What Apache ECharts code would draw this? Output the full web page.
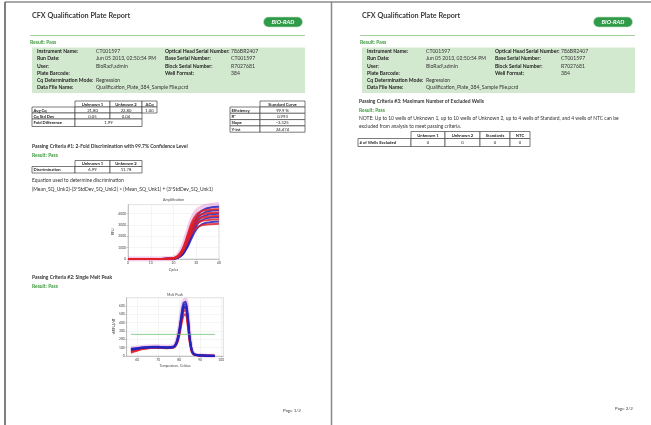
<!DOCTYPE html>
<html>
<head>
<meta charset="utf-8">
<script src="https://cdn.jsdelivr.net/npm/echarts@6/dist/echarts.min.js"></script>
<style>
html, body { margin: 0; padding: 0; background: #fff; }
#main { width: 651px; height: 425px; }
</style>
</head>
<body>
<div id="main"></div>
<script>
// ---- report data ----
var infoLabelsL = ['Instrument Name:', 'Run Date:', 'User:', 'Plate Barcode:', 'Cq Determination Mode:', 'Data File Name:'];
var infoValuesL = ['CT001597', 'Jun 05 2013, 02:50:54 PM', 'BioRad\\admin', '', 'Regression', 'Qualification_Plate_384_Sample File.pcrd'];
var infoLabelsR = ['Optical Head Serial Number:', 'Base Serial Number:', 'Block Serial Number:', 'Well Format:'];
var infoValuesR = ['786BR2407', 'CT001597', 'R7027681', '384'];

var cqCols = ['Unknown 1', 'Unknown 2', 'ΔCq'];
var avgCq = ['21.80', '22.80', '1.00'];
var cqStdDev = ['0.05', '0.04'];
var foldDiff = '1.99';
var stdCurveRows = ['Efficiency', 'R²', 'Slope', 'Y-int'];
var stdCurveVals = ['99.9 %', '0.993', '-3.325', '24.474'];
var discrimCols = ['Unknown 1', 'Unknown 2'];
var discrimVals = ['6.99', '11.78'];
var excludedCols = ['Unknown 1', 'Unknown 2', 'Standards', 'NTC'];
var excludedVals = ['0', '0', '0', '0'];

// ---- amplification (RFU per cycle) ----
var ampCycles = [0, 5, 10, 15, 18, 20, 22, 24, 26, 28, 30, 32, 34, 36, 38, 40];
var ampHalo = [0, 6, 9, 11, 25, 75, 300, 950, 2150, 3400, 4150, 4480, 4640, 4720, 4770, 4800];
var ampUnk2 = [
    [0, 4, 6, 8, 12, 30, 110, 380, 1000, 1850, 2600, 3000, 3170, 3240, 3280, 3300],
    [0, 5, 7, 9, 14, 35, 125, 430, 1120, 2080, 2920, 3370, 3560, 3640, 3680, 3700],
    [0, 5, 8, 10, 15, 38, 135, 470, 1220, 2250, 3150, 3640, 3850, 3940, 3980, 4000],
    [0, 6, 8, 10, 16, 40, 145, 500, 1300, 2420, 3390, 3910, 4140, 4240, 4280, 4300],
    [0, 6, 9, 11, 17, 42, 155, 540, 1400, 2600, 3620, 4180, 4420, 4530, 4580, 4600]
];
var ampUnk1 = [
    [0, 4, 6, 8, 15, 45, 180, 600, 1400, 2250, 2750, 2950, 3030, 3070, 3090, 3100],
    [0, 5, 7, 9, 18, 55, 220, 700, 1600, 2550, 3100, 3330, 3420, 3460, 3490, 3500],
    [0, 5, 8, 10, 20, 60, 240, 760, 1750, 2780, 3370, 3620, 3720, 3760, 3790, 3800],
    [0, 6, 8, 10, 22, 65, 260, 820, 1880, 3000, 3640, 3900, 4010, 4060, 4090, 4100],
    [0, 6, 9, 11, 24, 70, 280, 880, 2000, 3200, 3900, 4190, 4310, 4360, 4390, 4400]
];

// ---- melt peak (-d(RFU)/dT per temperature) ----
var meltTemps = [57, 59, 62, 65, 68, 71, 74, 77, 78, 79, 80, 81, 82, 83, 84, 85, 86, 87, 89, 92, 95, 97];
var meltThreshold = 260;
var meltHalo = [95, 98, 108, 114, 117, 115, 112, 117, 138, 200, 330, 510, 655, 675, 525, 240, 75, 26, 11, 6, 3, 2];
var meltUnk2 = [
    [75, 80, 95, 100, 103, 101, 98, 103, 120, 170, 275, 430, 560, 590, 460, 210, 65, 22, 9, 4, 2, 1],
    [82, 86, 98, 104, 107, 105, 102, 107, 126, 182, 295, 460, 600, 625, 485, 220, 68, 23, 10, 5, 2, 1],
    [88, 92, 102, 108, 111, 109, 106, 111, 130, 190, 310, 485, 630, 650, 505, 230, 70, 24, 10, 5, 3, 1]
];
var meltUnk1 = [
    [40, 55, 80, 92, 98, 96, 94, 98, 110, 150, 240, 370, 480, 500, 380, 170, 50, 18, 8, 4, 2, 1],
    [55, 65, 88, 98, 102, 100, 97, 102, 118, 165, 265, 410, 530, 550, 420, 190, 58, 20, 9, 5, 3, 2],
    [65, 72, 92, 102, 106, 104, 100, 105, 122, 175, 285, 440, 570, 590, 450, 205, 62, 22, 10, 5, 3, 2]
];

var FONT = 'Lato, "Liberation Sans", sans-serif';
var GREEN = '#3f9a3f';
var BODY = 4.95;
var g = [];

function text(x, y, s, size, opt) {
    opt = opt || {};
    return {
        type: 'text', x: x, y: y, silent: true,
        style: {
            text: s,
            font: (opt.italic ? 'italic ' : '') + (opt.bold ? 'bold ' : '') + size + 'px ' + FONT,
            fill: opt.color || '#333',
            align: opt.align || 'left', textAlign: opt.align || 'left',
            verticalAlign: 'middle', textVerticalAlign: 'middle'
        }
    };
}
function rect(x, y, w, h, opt) {
    return {
        type: 'rect', silent: true,
        shape: {x: x, y: y, width: w, height: h, r: opt.r || 0},
        style: {fill: opt.fill || 'none', stroke: opt.stroke || null, lineWidth: opt.lineWidth || 0}
    };
}
function line(x1, y1, x2, y2, color, w) {
    return {type: 'line', silent: true, shape: {x1: x1, y1: y1, x2: x2, y2: y2}, style: {stroke: color, lineWidth: w}};
}
function cell(x, y, w, h, s, opt) {
    opt = opt || {};
    g.push(rect(x, y, w, h, {fill: '#fff', stroke: '#444', lineWidth: 0.7}));
    if (s) {
        g.push(text(opt.left ? x + 1.5 : x + w / 2, y + h / 2 + 0.2, s, opt.size || 4.2,
            {bold: opt.bold, align: opt.left ? 'left' : 'center', color: '#222'}));
    }
}

function header(ox) {
    g.push(text(32 + ox, 16, 'CFX Qualification Plate Report', 7.2, {bold: true, color: '#3a3a3a'}));
    g.push(rect(263.5 + ox, 17, 39, 10, {fill: '#2f9a47', stroke: '#bfe0c4', lineWidth: 0.6, r: 5}));
    g.push(text(283 + ox, 22.2, 'BIO-RAD', 5.8, {bold: true, italic: true, color: '#fff', align: 'center'}));
    g.push(line(30 + ox, 35.5, 305 + ox, 35.5, '#a6d49f', 1));
    g.push(text(30 + ox, 42, 'Result: Pass', 5, {bold: true, color: GREEN}));
    g.push(rect(32 + ox, 47.5, 273, 45.5, {fill: '#d3e9cf'}));
    var i;
    for (i = 0; i < infoLabelsL.length; i++) {
        g.push(text(37 + ox, 51.5 + i * 7.2, infoLabelsL[i], 5.1, {bold: true, color: '#222'}));
        g.push(text(96 + ox, 51.5 + i * 7.2, infoValuesL[i], 5.1, {color: '#333'}));
    }
    for (i = 0; i < infoLabelsR.length; i++) {
        g.push(text(165 + ox, 51.5 + i * 7.2, infoLabelsR[i], 5.1, {bold: true, color: '#222'}));
        g.push(text(231 + ox, 51.5 + i * 7.2, infoValuesR[i], 5.1, {color: '#333'}));
    }
}

// page frames
g.push(line(5, 2, 5, 425, '#555', 1.5));
g.push(line(5, 2, 651, 2, '#555', 1.2));
g.push(line(331.5, 2, 331.5, 425, '#888', 1.5));

header(0);
header(330);

// page 1 tables
var colX = [75, 110, 142, 157];
var j;
for (j = 0; j < 3; j++) cell(colX[j], 101, colX[j + 1] - colX[j], 6, cqCols[j], {bold: true});
cell(32, 107, 43, 6, 'Avg Cq', {bold: true, left: true});
for (j = 0; j < 3; j++) cell(colX[j], 107, colX[j + 1] - colX[j], 6, avgCq[j]);
cell(32, 113, 43, 6, 'Cq Std Dev', {bold: true, left: true});
for (j = 0; j < 2; j++) cell(colX[j], 113, colX[j + 1] - colX[j], 6, cqStdDev[j]);
cell(32, 119, 43, 7.5, 'Fold Difference', {bold: true, left: true});
cell(75, 119, 67, 7.5, foldDiff);

cell(260, 101, 45, 6, 'Standard Curve', {bold: true});
for (j = 0; j < stdCurveRows.length; j++) {
    cell(230, 107 + j * 6.3, 30, 6.3, stdCurveRows[j], {bold: true, left: true});
    cell(260, 107 + j * 6.3, 45, 6.3, stdCurveVals[j]);
}

g.push(text(32, 146.5, 'Passing Criteria #1: 2-Fold Discrimination with 99.7% Confidence Level', BODY, {bold: true, color: '#333'}));
g.push(text(32, 155.5, 'Result: Pass', BODY, {bold: true, color: GREEN}));
for (j = 0; j < 2; j++) cell(colX[j], 160.5, colX[j + 1] - colX[j], 6, discrimCols[j], {bold: true});
cell(32, 166.5, 43, 6.5, 'Discrimination', {bold: true, left: true});
for (j = 0; j < 2; j++) cell(colX[j], 166.5, colX[j + 1] - colX[j], 6.5, discrimVals[j]);
g.push(text(32, 180.5, 'Equation used to determine discrimination', BODY));
g.push(text(32, 189, '(Mean_SQ_Unk2)-(3*StdDev_SQ_Unk2) > (Mean_SQ_Unk1) + (3*StdDev_SQ_Unk1)', BODY));

g.push(text(173.5, 199.5, 'Amplification', 3.6, {align: 'center', color: '#444'}));
g.push(text(32, 277, 'Passing Criteria #2: Single Melt Peak', BODY, {bold: true, color: '#333'}));
g.push(text(32, 286.5, 'Result: Pass', BODY, {bold: true, color: GREEN}));
g.push(text(175, 294.5, 'Melt Peak', 3.6, {align: 'center', color: '#444'}));
g.push(text(283, 411, 'Page 1/2', 4.5, {color: '#444'}));

// page 2
g.push(text(359, 101.5, 'Passing Criteria #3: Maximum Number of Excluded Wells', BODY, {bold: true, color: '#333'}));
g.push(text(359, 110.5, 'Result: Pass', BODY, {bold: true, color: GREEN}));
g.push(text(359, 118.5, 'NOTE: Up to 10 wells of Unknown 1, up to 10 wells of Unknown 2, up to 4 wells of Standard, and 4 wells of NTC can be', BODY));
g.push(text(359, 126, 'excluded from analysis to meet passing criteria.', BODY));
var colX2 = [411, 445, 480, 510, 530];
for (j = 0; j < 4; j++) cell(colX2[j], 131.5, colX2[j + 1] - colX2[j], 7, excludedCols[j], {bold: true});
cell(358, 138.5, 53, 8, '# of Wells Excluded', {bold: true, left: true});
for (j = 0; j < 4; j++) cell(colX2[j], 138.5, colX2[j + 1] - colX2[j], 8, excludedVals[j]);
g.push(text(615, 409, 'Page 2/2', 4.5, {color: '#444'}));

// ---- chart ----
function pairs(xs, ys) {
    return ys.map(function (v, i) { return [xs[i], v]; });
}
function curve(idx, xs, ys, color, width) {
    return {
        type: 'line', xAxisIndex: idx, yAxisIndex: idx, data: pairs(xs, ys),
        showSymbol: false, smooth: 0.35, silent: true,
        lineStyle: {color: color, width: width}
    };
}
var RED = 'rgba(226,30,40,0.85)';
var BLUE = 'rgba(35,35,190,0.85)';
var HALO = 'rgba(215,110,200,0.35)';

var series = [];
series.push(curve(0, ampCycles, ampHalo, HALO, 5));
ampUnk2.forEach(function (d) { series.push(curve(0, ampCycles, d, BLUE, 2)); });
ampUnk1.forEach(function (d) { series.push(curve(0, ampCycles, d, RED, 2)); });
series.push(curve(1, meltTemps, meltHalo, HALO, 4));
meltUnk1.forEach(function (d) { series.push(curve(1, meltTemps, d, RED, 2)); });
meltUnk2.forEach(function (d) { series.push(curve(1, meltTemps, d, BLUE, 2)); });
series.push({
    type: 'line', xAxisIndex: 1, yAxisIndex: 1, showSymbol: false, silent: true,
    data: [[meltTemps[0], meltThreshold], [meltTemps[meltTemps.length - 1], meltThreshold]],
    lineStyle: {color: '#74c274', width: 0.8}
});

function axisCommon() {
    return {
        axisLine: {lineStyle: {color: '#999', width: 0.5}},
        axisTick: {length: 1.5, lineStyle: {color: '#999', width: 0.5}},
        axisLabel: {fontSize: 3.3, color: '#444', margin: 2, fontFamily: FONT,
            formatter: function (v) { return String(v); }},
        splitLine: {lineStyle: {color: '#ebebeb', width: 0.5}},
        nameLocation: 'middle',
        nameTextStyle: {fontSize: 3.4, color: '#444', fontFamily: FONT}
    };
}
var ax0 = echarts.util.merge(axisCommon(), {gridIndex: 0, type: 'value', min: 0, max: 40, interval: 10, name: 'Cycles', nameGap: 9});
var ay0 = echarts.util.merge(axisCommon(), {gridIndex: 0, type: 'value', min: 0, max: 4800, interval: 1000, name: 'RFU', nameGap: 11});
ay0.axisLabel.showMaxLabel = false;
var ax1 = echarts.util.merge(axisCommon(), {gridIndex: 1, type: 'value', min: 55, max: 101, name: 'Temperature, Celsius', nameGap: 8});
ax1.axisLabel.customValues = [60, 70, 80, 90, 100];
ax1.axisTick.customValues = [60, 70, 80, 90, 100];
var ay1 = echarts.util.merge(axisCommon(), {gridIndex: 1, type: 'value', min: 0, max: 700, interval: 100, name: '-d(RFU)/dT', nameGap: 10});
ay1.axisLabel.showMaxLabel = false;

var chart = echarts.init(document.getElementById('main'));
chart.setOption({
    animation: false,
    grid: [
        {left: 128, top: 204.6, width: 91, height: 54.4, show: true, borderColor: '#bbb', borderWidth: 0.5, outerBoundsMode: 'none'},
        {left: 126.7, top: 297.7, width: 96.6, height: 58.3, show: true, borderColor: '#bbb', borderWidth: 0.5, outerBoundsMode: 'none'}
    ],
    xAxis: [ax0, ax1],
    yAxis: [ay0, ay1],
    series: series,
    graphic: {elements: g}
});
</script>
</body>
</html>
